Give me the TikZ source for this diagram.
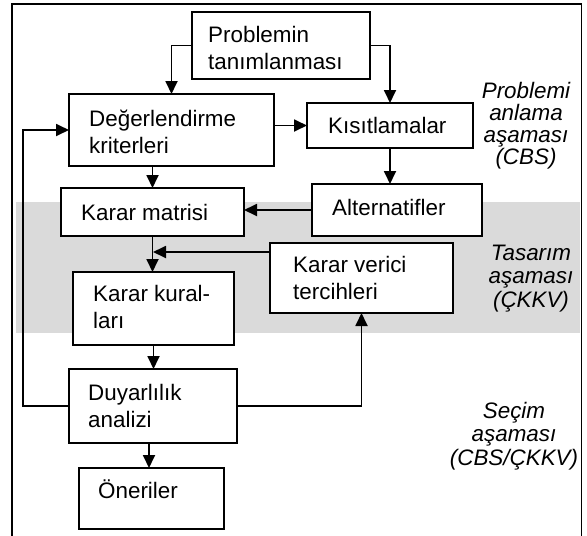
\documentclass[tikz,border=0pt]{standalone}
\usepackage{fontspec}
\setmainfont{Liberation Sans}
\usetikzlibrary{arrows.meta}
\definecolor{band}{RGB}{218,218,218}
\begin{document}
\begin{tikzpicture}[x=1pt,y=-1pt,
  box/.style={draw, line width=1.8pt, fill=white, inner sep=0pt, outer sep=0pt, anchor=north west},
  txt/.style={anchor=base west, inner sep=0pt, align=left, font=\fontsize{22.4}{27}\selectfont},
  lbl/.style={anchor=base, inner sep=0pt, align=center},
  conn/.style={line width=1.8pt, -{Triangle[length=13pt,width=12pt]}},
  plain/.style={line width=1.8pt}
]
\useasboundingbox (0,0) rectangle (587,536);
\fill[band] (16,202) rectangle (580,333);
\draw[plain] (12,545) -- (12,4) -- (581.5,4) -- (581.5,545);

% boxes
\node[box, minimum width=178pt, minimum height=67pt] (p) at (192,12) {};
\node[box, minimum width=205pt, minimum height=72pt] (d) at (69,94) {};
\node[box, minimum width=166pt, minimum height=45pt] (k) at (307,103) {};
\node[box, minimum width=170pt, minimum height=52pt] (a) at (312,184) {};
\node[box, minimum width=183pt, minimum height=48pt] (m) at (61,188) {};
\node[box, minimum width=183pt, minimum height=70pt] (v) at (270,243) {};
\node[box, minimum width=161pt, minimum height=73pt] (r) at (73,272) {};
\node[box, minimum width=168pt, minimum height=74pt] (s) at (69,369) {};
\node[box, minimum width=145pt, minimum height=61pt] (o) at (79,468) {};

% texts (anchored at the baseline of the last line)
\node[txt] (pt) at (208,69) {Problemin\\tanımlanması};
\node[txt] (dt) at (89,153) {Değerlendirme\\kriterleri};
\node[txt] (kt) at (328,133) {Kısıtlamalar};
\node[txt] (at) at (332,215) {Alternatifler};
\node[txt] (mt) at (81,220) {Karar matrisi};
\node[txt] (vt) at (293,299) {Karar verici\\tercihleri};
\node[txt] (rt) at (93,328) {Karar kural-\\ları};
\node[txt] (st) at (88,427) {Duyarlılık\\analizi};
\node[txt] (ot) at (98,498) {Öneriler};

% phase labels
\node[lbl, font=\fontsize{22.4}{22}\selectfont\itshape] (l1) at (526,164) {Problemi\\anlama\\aşaması\\(CBS)};
\node[lbl, font=\fontsize{22.4}{23.5}\selectfont\itshape] (l2) at (531,307) {Tasarım\\aşaması\\(ÇKKV)};
\node[lbl, font=\fontsize{22.4}{23.5}\selectfont\itshape] (l3) at (514,465) {Seçim\\aşaması\\(CBS/ÇKKV)};

% connectors
\coordinate (j) at (153,252);
\coordinate (fb) at (23,0);
\draw[conn] (p.west) -| (d.north);
\draw[conn] (p.east) -| (k.north);
\draw[conn] (d.east |- k.west) -- (k.west);
\draw[conn] (d.south -| m.north) -- (m.north);
\draw[conn] (k.south) -- (k.south |- a.north);
\draw[conn] (a.west) -- (a.west -| m.east);
\draw[conn] (m.south) -- (m.south |- r.north);
\draw[conn] (v.west |- j) -- (j);
\draw[conn] (r.south) -- (r.south |- s.north);
\draw[conn] ([xshift=-4pt]s.south) -- ([xshift=-4pt]s.south |- o.north);
\draw[conn] (s.west) -| (fb |- d.west) -- (d.west);
\draw[conn] (s.east) -| (v.south);
\end{tikzpicture}
\end{document}
